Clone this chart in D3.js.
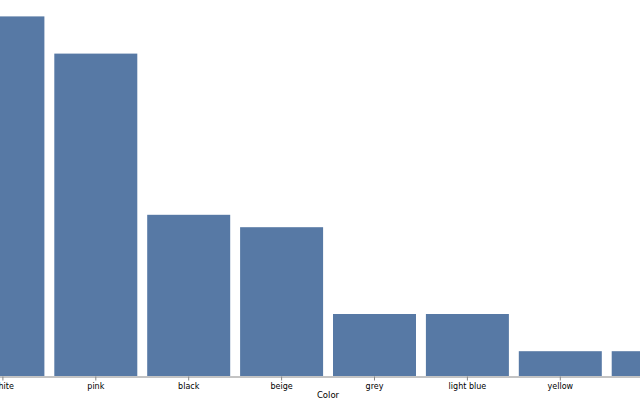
<!DOCTYPE html>
<html><head><meta charset="utf-8">
<script src="https://cdn.jsdelivr.net/npm/d3@7"></script>
<style>html,body{margin:0;padding:0;background:#fff;overflow:hidden}</style>
</head><body>
<svg id="c" width="640" height="400"></svg>
<script>
const categories = ["white","pink","black","beige","grey","light blue","yellow","red"];
const counts = [29,26,13,12,5,5,2,2];
const yDomain = [0,30];

const svg = d3.select("#c");
const step = 92.9, pad = 0.1066;
const start = -43.55;
const x = d3.scaleBand().domain(categories)
  .range([start, start + step*categories.length])
  .paddingInner(pad).paddingOuter(pad/2);
const y = d3.scaleLinear().domain(yDomain).range([376, 4]);

svg.append("g").selectAll("rect").data(categories).join("rect")
  .attr("x", d => x(d)).attr("width", x.bandwidth())
  .attr("y", (d,i) => y(counts[i])).attr("height", (d,i) => y(0) - y(counts[i]))
  .attr("fill", "#5779a5");

const ax = svg.append("g").attr("transform", "translate(0,376.5)")
  .call(d3.axisBottom(x).tickSize(4).tickSizeOuter(0).tickPadding(3));
ax.select(".domain").attr("stroke", "#888");
ax.selectAll(".tick line").attr("stroke", "#888");
ax.selectAll(".tick text").attr("font-family", "DejaVu Sans").attr("font-size", 8).attr("fill", "#000");

svg.append("text").attr("x", 328).attr("y", 397.5).attr("text-anchor", "middle")
  .attr("font-family", "DejaVu Sans").attr("font-size", 8.5).attr("fill", "#000").text("Color");
</script>
</body></html>
